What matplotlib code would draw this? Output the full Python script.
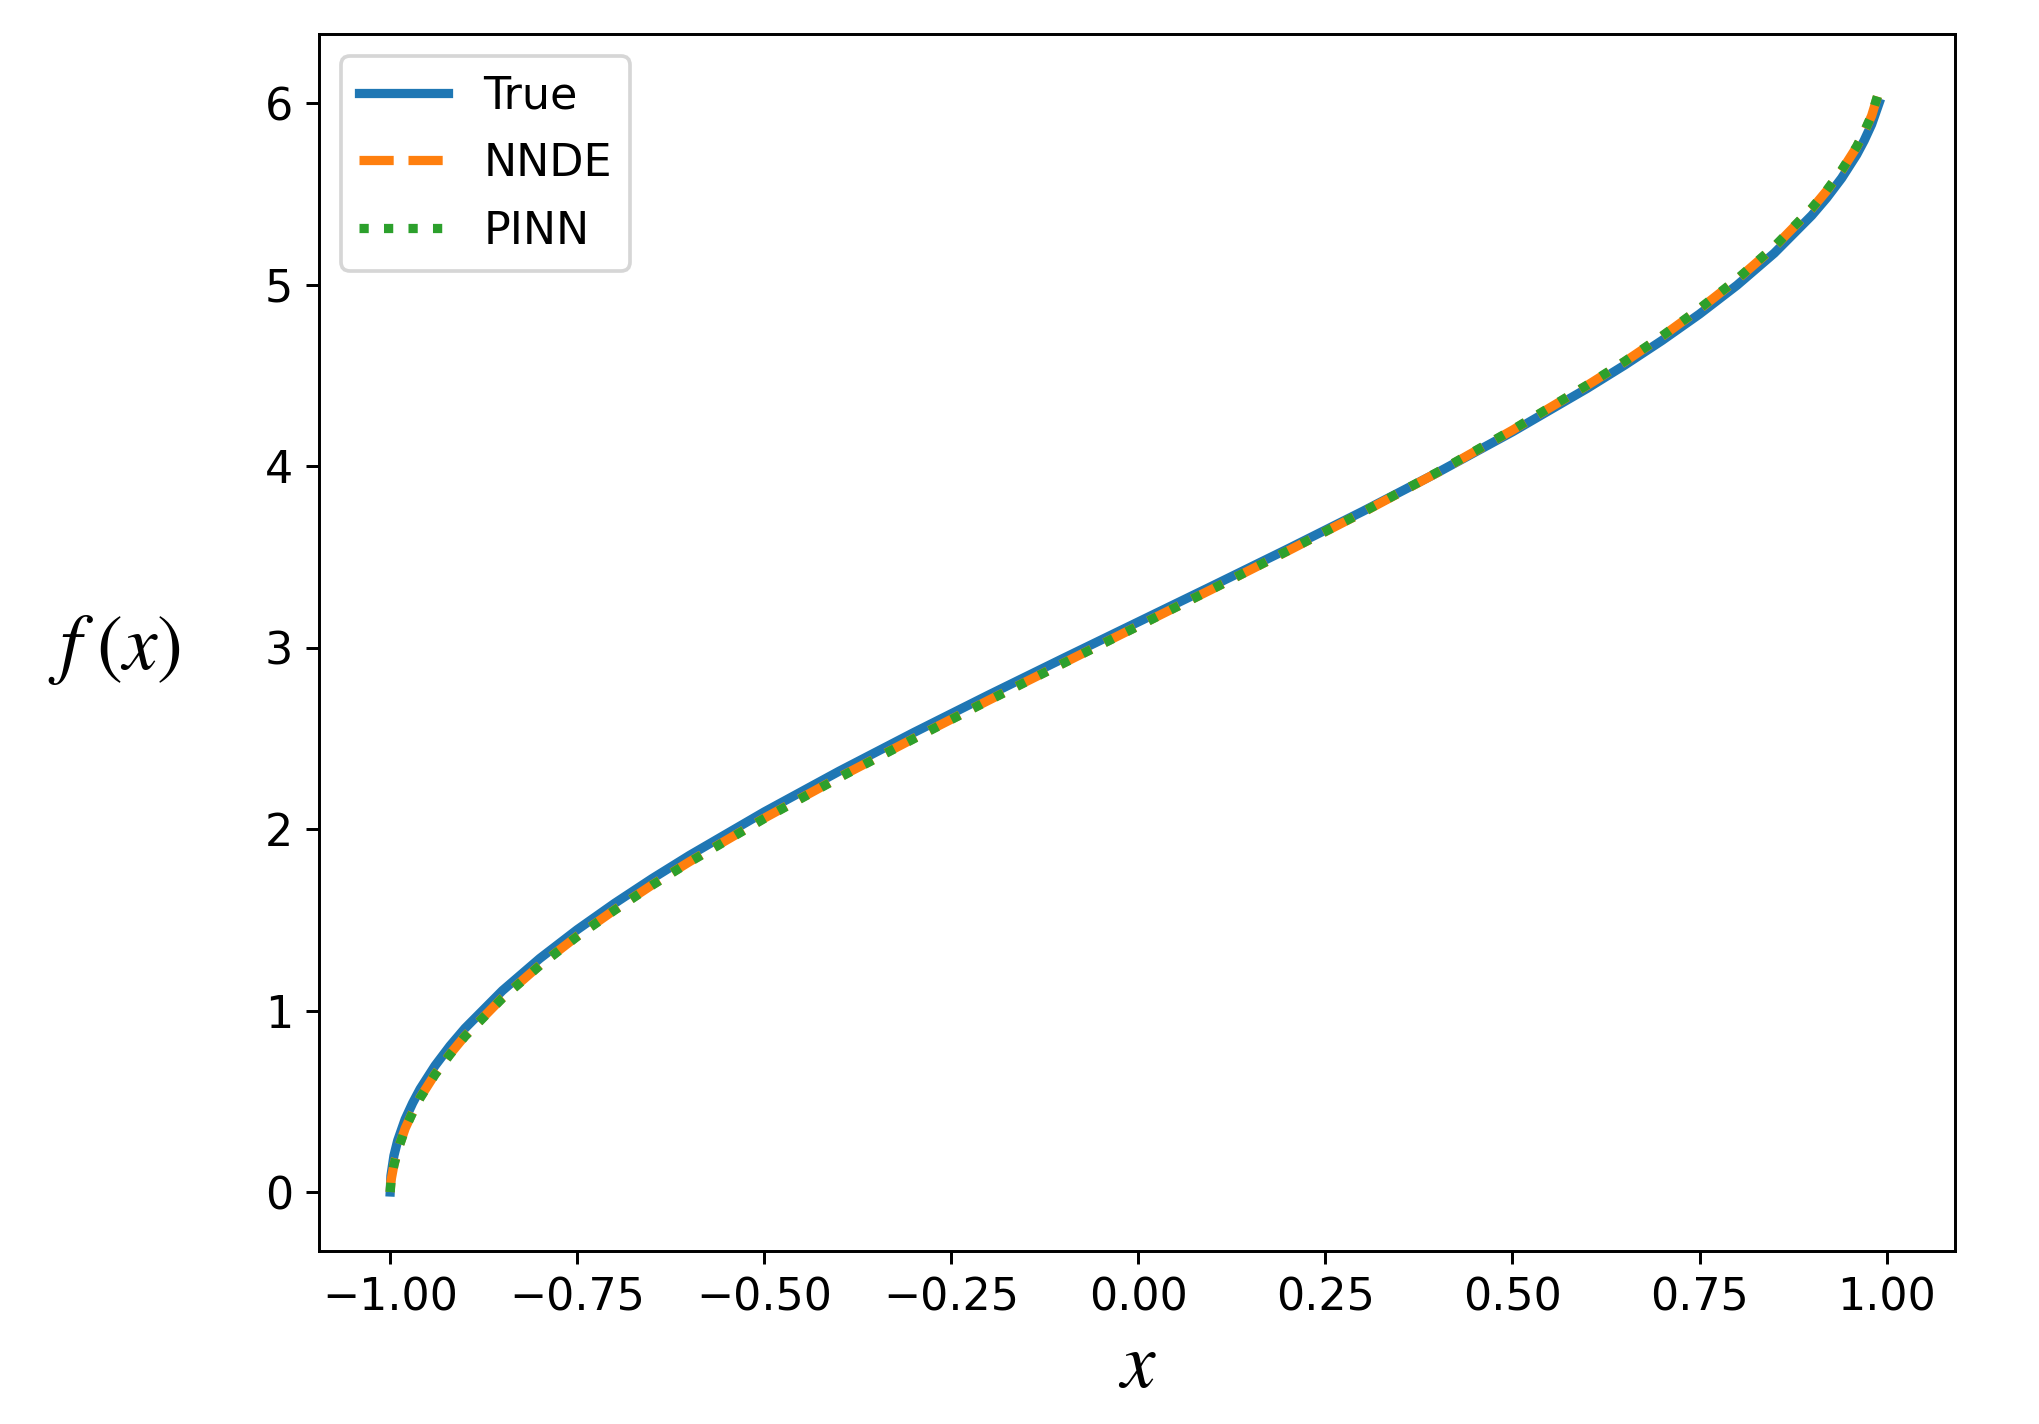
import matplotlib.pyplot as plt

x = [-1.0, -0.999, -0.995, -0.99, -0.98, -0.97, -0.96, -0.94, -0.92, -0.9, -0.85, -0.8,
     -0.75, -0.7, -0.65, -0.6, -0.5, -0.4, -0.3, -0.2, -0.1, 0.0, 0.1, 0.2, 0.3, 0.4,
     0.5, 0.6, 0.65, 0.7, 0.75, 0.8, 0.85, 0.9, 0.92, 0.94, 0.96, 0.97, 0.98, 0.99]
y_true = [0.0, 0.0894, 0.2001, 0.2831, 0.4007, 0.4900, 0.5676, 0.6963, 0.8054, 0.9021,
          1.1096, 1.2870, 1.4455, 1.5908, 1.7266, 1.8546, 2.0944, 2.3186, 2.5322, 2.7389,
          2.9413, 3.1416, 3.3419, 3.5443, 3.7510, 3.9646, 4.1888, 4.4286, 4.5566, 4.6924,
          4.8377, 4.9962, 5.1736, 5.3811, 5.4778, 5.5869, 5.7156, 5.7932, 5.8825, 6.0001]
y_nnde = [0.0, 0.06, 0.15, 0.23, 0.35, 0.44, 0.52, 0.65, 0.76, 0.86,
          1.07, 1.25, 1.41, 1.555, 1.692, 1.82, 2.06, 2.285, 2.50, 2.71,
          2.915, 3.12, 3.325, 3.533, 3.745, 3.965, 4.198, 4.445, 4.575, 4.715,
          4.865, 5.027, 5.207, 5.418, 5.517, 5.628, 5.758, 5.838, 5.930, 6.065]
y_pinn = [0.0, 0.058, 0.148, 0.228, 0.348, 0.438, 0.518, 0.648, 0.758, 0.858,
          1.068, 1.248, 1.408, 1.553, 1.690, 1.818, 2.058, 2.283, 2.498, 2.709,
          2.914, 3.119, 3.325, 3.534, 3.746, 3.967, 4.200, 4.447, 4.577, 4.717,
          4.868, 5.030, 5.210, 5.421, 5.520, 5.631, 5.761, 5.841, 5.933, 6.068]

plt.rcParams['mathtext.fontset'] = 'stix'

fig = plt.figure(figsize=(2039 / 266.2, 1424 / 266.2), dpi=266.2)
ax = fig.add_axes([0.1565, 0.1215, 0.8025, 0.8545])

ax.plot(x, y_true, color='#1f77b4', linewidth=2.5, label='True')
ax.plot(x, y_nnde, color='#ff7f0e', linewidth=2.5, linestyle='--', label='NNDE')
ax.plot(x, y_pinn, color='#2ca02c', linewidth=2.5, linestyle=':', label='PINN')

ax.set_xlim(-1.095, 1.092)
ax.set_ylim(-0.325, 6.38)
ax.set_xticks([-1.0, -0.75, -0.5, -0.25, 0.0, 0.25, 0.5, 0.75, 1.0])
ax.set_yticks([0, 1, 2, 3, 4, 5, 6])
ax.tick_params(labelsize=12)

ax.set_xlabel('$x$', fontsize=21, labelpad=2)
ax.set_ylabel('$f\\;(x)$', fontsize=21, rotation=0, va='center')
ax.yaxis.set_label_coords(-0.125, 0.495)
ax.legend(loc='upper left', fontsize=12, labelspacing=0.56)

fig.savefig('out.png', dpi=266.2)
